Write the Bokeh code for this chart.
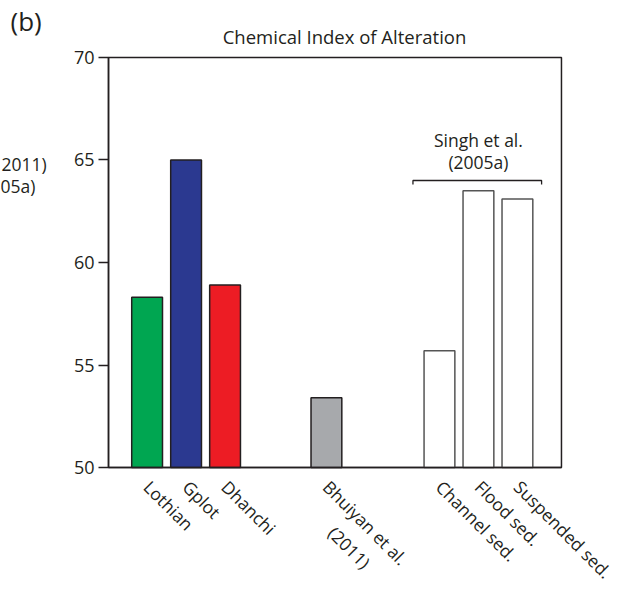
import math
from bokeh.plotting import figure
from bokeh.models import Range1d, FixedTicker, ColumnDataSource, Label, BoxAnnotation
from bokeh.embed import file_html
from bokeh.resources import INLINE

# ---- data ----
NB = "\u00a0"
groups = [["Lothian", "Gplot", "Dhanchi"],
          [NB + "\nBhuiyan et al.\n" + NB * 8 + "(2011)"],
          ["Channel sed.", "Flood sed.", "Suspended sed."]]
cia_values = [58.3, 65.0, 58.9, 53.4, 55.7, 63.5, 63.1]
bar_colors = ["#00A651", "#2B3990", "#ED1C24", "#A7A9AC", "#FFFFFF", "#FFFFFF", "#FFFFFF"]
line_colors = ["#231F20", "#231F20", "#231F20", "#231F20", "#555555", "#555555", "#555555"]
y_ticks = [50, 55, 60, 65, 70]
y_lo, y_hi = 50, 70
chart_title = "Chemical Index of Alteration"
bracket_lines = ["Singh et al.", "(2005a)"]
panel_letter = "(b)"
neighbour_texts = ["2011)", "05a)"]

# ---- layout of bar slots ----
group_gaps = [0.0, 1.6, 1.9]
labels, xs = [], []
pos = 0.0
for gi, g in enumerate(groups):
    pos += group_gaps[gi]
    for name in g:
        labels.append(name)
        xs.append(round(pos, 2))
        pos += 1.0
x_lo, x_hi = xs[0] - 0.99, xs[-1] + 1.13

FONT = "Open Sans"
INK = "#231F20"
W, H = 624, 589

# The plotting frame covers the whole canvas; axes are pinned inside it.
p = figure(width=W, height=H, output_backend="svg", toolbar_location=None,
           x_range=Range1d(-3.761, 12.247), y_range=Range1d(44.05, 72.78),
           min_border_left=0, min_border_right=0, min_border_top=0, min_border_bottom=0,
           title_location=None)
p.grid.visible = False
p.outline_line_color = None
p.background_fill_color = "white"
p.border_fill_color = "white"

# frame box (top / right edges of the plotting area)
p.add_layout(BoxAnnotation(left=x_lo, right=x_hi, bottom=y_lo, top=y_hi,
                           fill_alpha=0, line_color=INK, line_alpha=1.0, line_width=1.5,
                           level="underlay"))

src = ColumnDataSource(dict(x=xs, top=cia_values, fill=bar_colors, line=line_colors))
p.vbar(x="x", top="top", bottom=y_lo, width=0.79, fill_color="fill", line_color="line",
       line_width=1.5, source=src)

# y axis
ya = p.yaxis[0]
ya.fixed_location = x_lo
ya.bounds = (y_lo, y_hi)
ya.ticker = FixedTicker(ticks=y_ticks)
ya.major_tick_out = 10
ya.major_tick_in = 0
ya.minor_tick_line_color = None
ya.axis_line_width = 1.5
ya.major_tick_line_width = 1.5
ya.axis_line_color = INK
ya.major_tick_line_color = INK
ya.major_label_text_font = FONT
ya.major_label_text_font_size = "18px"
ya.major_label_text_color = INK
ya.major_label_standoff = 4

# x axis
xa = p.xaxis[0]
xa.fixed_location = y_lo
xa.bounds = (x_lo, x_hi)
xa.ticker = FixedTicker(ticks=xs)
xa.major_label_overrides = {x: l for x, l in zip(xs, labels)}
xa.major_tick_out = 0
xa.major_tick_in = 0
xa.minor_tick_line_color = None
xa.axis_line_width = 1.5
xa.axis_line_color = INK
xa.major_label_orientation = -math.pi / 4
xa.major_label_text_font = FONT
xa.major_label_text_font_size = "17.5px"
xa.major_label_text_color = INK
xa.major_label_standoff = 16

# bracket over the Singh et al. group
g0 = xs[-3] - 0.68
g1 = xs[-1] + 0.62
p.line([g0, g0, g1, g1], [63.8, 64.0, 64.0, 63.8], line_color=INK, line_width=1.3)
for i, line_text in enumerate(reversed(bracket_lines)):
    p.add_layout(Label(x=xs[-2], y=64.0, text=line_text, text_align="center",
                       text_baseline="bottom", text_font=FONT, text_font_size="17.5px",
                       text_color=INK, y_offset=7 + 22 * i))

# title, panel letter and cropped neighbour-panel text (screen px from bottom-left)
p.add_layout(Label(x=344, y=H - 36, x_units="screen", y_units="screen", text=chart_title,
                   text_align="center", text_baseline="middle", text_font=FONT,
                   text_font_size="18.5px", text_color=INK))
p.add_layout(Label(x=10, y=H - 20, x_units="screen", y_units="screen", text=panel_letter,
                   text_align="left", text_baseline="middle", text_font=FONT,
                   text_font_size="26px", text_color=INK))
p.add_layout(Label(x=1, y=H - 163, x_units="screen", y_units="screen", text=neighbour_texts[0],
                   text_align="left", text_baseline="middle", text_font=FONT,
                   text_font_size="17.5px", text_color=INK))
p.add_layout(Label(x=0, y=H - 185, x_units="screen", y_units="screen", text=neighbour_texts[1],
                   text_align="left", text_baseline="middle", text_font=FONT,
                   text_font_size="17.5px", text_color=INK))

open("out.html", "w").write(file_html(p, INLINE))
